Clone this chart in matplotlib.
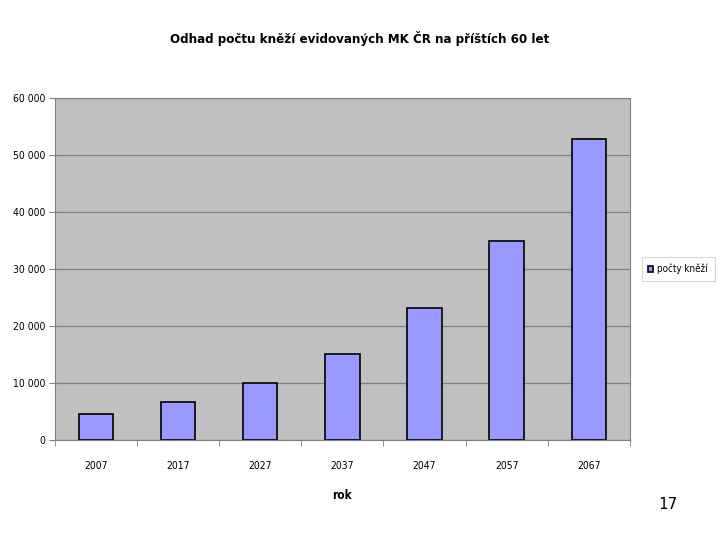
import matplotlib.pyplot as plt
import numpy as np

years = ["2007", "2017", "2027", "2037", "2047", "2057", "2067"]
counts = [4500, 6700, 10000, 15100, 23200, 34900, 52800]
yticks = [0, 10000, 20000, 30000, 40000, 50000, 60000]
ytick_labels = ["0", "10 000", "20 000", "30 000", "40 000", "50 000", "60 000"]

plt.rcParams['font.family'] = ['DejaVu Sans']
plt.rcParams['font.stretch'] = 'condensed'

fig = plt.figure(figsize=(7.2, 5.4), dpi=100)
ax = fig.add_axes([0.076, 0.185, 0.799, 0.633])

x = np.arange(len(years))
ax.bar(x, counts, width=0.42, color="#9999FF", edgecolor="black", linewidth=1.2,
       label="počty kněží", zorder=3)

ax.set_facecolor("#C0C0C0")
ax.set_xlim(-0.5, len(years) - 0.5)
ax.set_ylim(0, 60000)
ax.set_yticks(yticks)
ax.set_yticklabels(ytick_labels, fontsize=7.5)
ax.yaxis.grid(True, color="#808080", linewidth=0.9, zorder=0)
ax.set_xticks(x)
ax.set_xticklabels(years, fontsize=7.5)
ax.set_xticks(np.arange(len(years) + 1) - 0.5, minor=True)
ax.tick_params(axis="x", which="major", length=0, pad=15)
ax.tick_params(axis="x", which="minor", length=4, color="#808080")
ax.tick_params(axis="y", length=4, color="#808080", pad=3)
for s in ax.spines.values():
    s.set_color("#808080")

ax.set_xlabel("rok", fontsize=8.5, fontweight="bold", labelpad=13)

fig.text(0.5, 0.928, "Odhad počtu kněží evidovaných MK ČR na příštích 60 let",
         ha="center", va="center", fontsize=9.5, fontweight="bold")

leg = ax.legend(loc="center left", bbox_to_anchor=(1.015, 0.5), fontsize=7,
                frameon=True, fancybox=False, handlelength=0.5, handleheight=0.6,
                handletextpad=0.4, borderpad=0.7, borderaxespad=0.3)
leg.get_frame().set_edgecolor("#D0D0D0")
leg.get_frame().set_linewidth(0.8)

fig.text(0.928, 0.065, "17", ha="center", va="center", fontsize=11,
         fontstretch="normal")

fig.savefig("out.png", dpi=100)
